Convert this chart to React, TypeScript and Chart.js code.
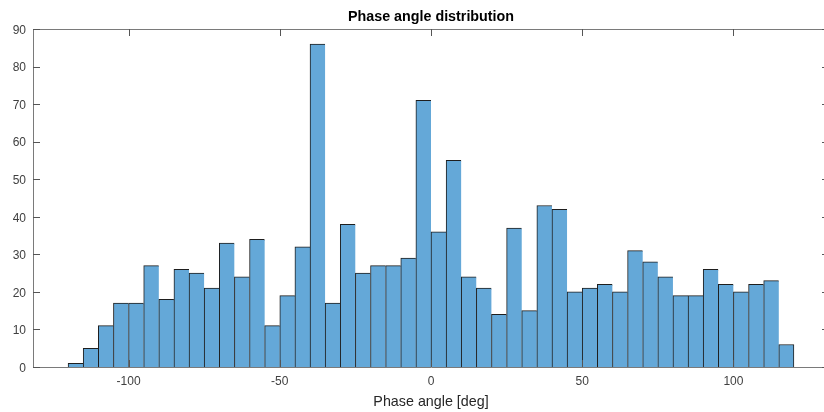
import React, { useEffect, useRef } from "react";
import { Chart, registerables } from "chart.js";

Chart.register(...registerables);

const binStarts = [
  -120, -115, -110, -105, -100, -95, -90, -85, -80, -75, -70, -65,
  -60, -55, -50, -45, -40, -35, -30, -25, -20, -15, -10, -5,
  0, 5, 10, 15, 20, 25, 30, 35, 40, 45, 50, 55,
  60, 65, 70, 75, 80, 85, 90, 95, 100, 105, 110, 115,
];
const binWidth = 5;
const counts = [
  1, 5, 11, 17, 17, 27, 18, 26, 25, 21, 33, 24,
  34, 11, 19, 32, 86, 17, 38, 25, 27, 27, 29, 71,
  36, 55, 24, 21, 14, 37, 15, 43, 42, 20, 21, 22,
  20, 31, 28, 24, 19, 19, 26, 22, 20, 22, 23, 6,
];
const xTicks = [-100, -50, 0, 50, 100];
const yTicks = [0, 10, 20, 30, 40, 50, 60, 70, 80, 90];
const titleText = "Phase angle distribution";
const xLabel = "Phase angle [deg]";

const FONT = "'Liberation Sans', Arial, Helvetica, sans-serif";

const boxPlugin = {
  id: "matlabBox",
  afterDraw(chart: any) {
    const { ctx, chartArea } = chart;
    const { left, right, top, bottom } = chartArea;
    const xs = chart.scales.x;
    const ys = chart.scales.y;
    const tl = 7;
    ctx.save();
    ctx.strokeStyle = "#7a7a7a";
    ctx.lineWidth = 1;
    ctx.beginPath();
    ctx.rect(Math.round(left) + 0.5, Math.round(top) + 0.5, Math.round(right) - Math.round(left), Math.round(bottom) - Math.round(top));
    ctx.stroke();
    ctx.strokeStyle = "#555555";
    ctx.beginPath();
    xTicks.forEach((v) => {
      const px = Math.round(xs.getPixelForValue(v)) + 0.5;
      ctx.moveTo(px, top);
      ctx.lineTo(px, top + tl);
      ctx.moveTo(px, bottom);
      ctx.lineTo(px, bottom - tl);
    });
    yTicks.forEach((v) => {
      const py = Math.round(ys.getPixelForValue(v)) + 0.5;
      ctx.moveTo(left, py);
      ctx.lineTo(left + tl, py);
      ctx.moveTo(right, py);
      ctx.lineTo(right - tl, py);
    });
    ctx.stroke();
    ctx.restore();
  },
};

export default function App() {
  const ref = useRef<HTMLCanvasElement>(null);
  useEffect(() => {
    if (!ref.current) return;
    const last = counts.length - 1;
    const chart = new Chart(ref.current, {
      type: "bar",
      data: {
        datasets: [
          {
            data: binStarts.map((s, i) => ({ x: s + binWidth / 2, y: counts[i] })),
            backgroundColor: "#64a8d8",
            borderColor: "#1e1e1e",
            borderWidth: (c: any) => ({ top: 1, left: 1, right: c.dataIndex === last ? 1 : 0, bottom: 0 }),
            borderSkipped: "start",
            barPercentage: 1,
            categoryPercentage: 1,
          } as any,
        ],
      },
      options: {
        responsive: false,
        animation: false,
        devicePixelRatio: 1,
        layout: { padding: { left: 0, right: 11, top: 0, bottom: 0 } },
        plugins: {
          legend: { display: false },
          tooltip: { enabled: false },
          title: { display: false },
        },
        scales: {
          x: {
            type: "linear",
            min: -131.6,
            max: 131.6,
            offset: false,
            grid: { display: false, drawTicks: false, offset: false },
            border: { display: false },
            afterBuildTicks: (s: any) => {
              s.ticks = xTicks.map((v) => ({ value: v }));
            },
            ticks: {
              color: "#404040",
              font: { family: FONT, size: 12 },
              padding: 7,
              maxRotation: 0,
            },
            title: {
              display: true,
              text: xLabel,
              color: "#262626",
              font: { family: FONT, size: 14.3 },
              padding: { top: 0, bottom: 1 },
            },
            afterFit: (s: any) => {
              s.height = 45;
            },
          },
          xTop: {
            type: "linear",
            position: "top",
            display: true,
            grid: { display: false, drawTicks: false },
            border: { display: false },
            ticks: { display: false },
            title: {
              display: true,
              text: titleText,
              color: "#000000",
              font: { family: FONT, size: 14.3, weight: "bold" },
              padding: { top: 8, bottom: 0 },
            },
            afterFit: (s: any) => {
              s.height = 29;
            },
          },
          y: {
            type: "linear",
            min: 0,
            max: 90,
            grid: { display: false, drawTicks: false },
            border: { display: false },
            afterBuildTicks: (s: any) => {
              s.ticks = yTicks.map((v) => ({ value: v }));
            },
            ticks: {
              color: "#404040",
              font: { family: FONT, size: 12 },
              padding: 7,
              labelOffset: 1.5,
            },
            afterFit: (s: any) => {
              s.width = 33;
            },
          },
        },
      } as any,
      plugins: [boxPlugin],
    });
    return () => chart.destroy();
  }, []);
  return (
    <div
      style={{
        position: "fixed",
        left: 0,
        top: 0,
        width: 824,
        height: 412,
        overflow: "hidden",
        background: "#ffffff",
      }}
    >
      <canvas ref={ref} width={840} height={412} style={{ display: "block" }} />
    </div>
  );
}
